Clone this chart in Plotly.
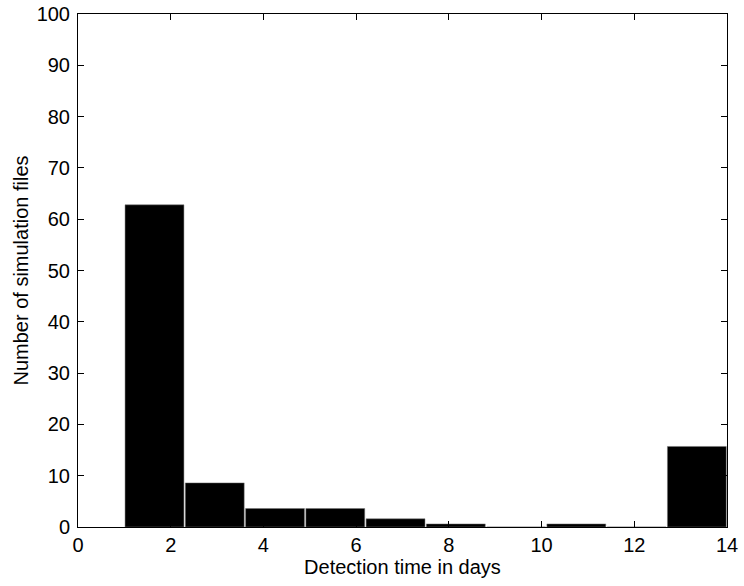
import plotly.graph_objects as go

bin_centers = [1.65, 2.95, 4.25, 5.55, 6.85, 8.15, 9.45, 10.75, 12.05, 13.35]
counts = [62.8, 8.6, 3.6, 3.6, 1.6, 0.6, 0, 0.6, 0, 15.7]
x_ticks = [0, 2, 4, 6, 8, 10, 12, 14]
y_ticks = [0, 10, 20, 30, 40, 50, 60, 70, 80, 90, 100]

FONT = "Liberation Sans, Arial, Helvetica, sans-serif"

fig = go.Figure(go.Bar(
    x=bin_centers, y=counts, width=1.27,
    marker=dict(color="black", line=dict(color="#777777", width=0.5)),
))

axis_common = dict(
    showline=True, linecolor="black", linewidth=1, mirror="ticks",
    ticks="inside", ticklen=6, tickcolor="black", showgrid=False, zeroline=False,
    automargin=False, ticklabeloverflow="allow",
    tickfont=dict(family=FONT, size=20, color="black"),
)

fig.update_layout(
    width=744, height=586,
    margin=dict(l=78, r=17, t=14, b=59),
    paper_bgcolor="white", plot_bgcolor="white",
    showlegend=False,
    font=dict(family=FONT, size=20, color="black"),
    xaxis=dict(range=[0, 14], tickvals=x_ticks,
               title=dict(text="Detection time in days", standoff=0,
                          font=dict(size=20)), **axis_common),
    yaxis=dict(range=[0, 100], tickvals=y_ticks, ticklabelstandoff=3,
               title=dict(text="Number of simulation files", standoff=2,
                          font=dict(size=20)), **axis_common),
)

fig.write_html("out.html", config={"displayModeBar": False},
               post_script="document.body.style.margin='0';")
